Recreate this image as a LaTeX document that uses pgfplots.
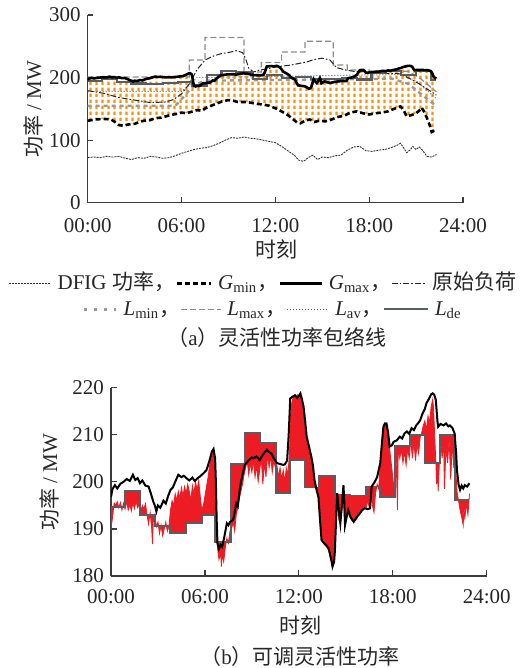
\documentclass[border=0pt]{standalone}
\usepackage{pgfplots}
\pgfplotsset{compat=1.18}
\usepackage{pgfplotstable}
\usepgfplotslibrary{fillbetween}
\usetikzlibrary{patterns}
\usepackage{fontspec}
\setmainfont{Liberation Serif}
\newfontfamily\cjk{Noto Sans CJK SC}
\definecolor{myorange}{RGB}{246,148,12}
\definecolor{myred}{RGB}{237,28,36}
\definecolor{ldegray}{RGB}{88,93,98}
\definecolor{axgray}{RGB}{60,60,60}
\pgfdeclarepatternformonly{vdash}{\pgfqpoint{0pt}{0pt}}{\pgfqpoint{2.75pt}{3pt}}{\pgfqpoint{2.75pt}{3pt}}{%
  \pgfsetlinewidth{1.25pt}%
  \pgfpathmoveto{\pgfqpoint{1.37pt}{0.45pt}}%
  \pgfpathlineto{\pgfqpoint{1.37pt}{2.55pt}}%
  \pgfusepath{stroke}}

\pgfplotstableread{
t v
0.0 196.8
0.1 198.5
0.25 199.3
0.4 198.6
0.6 199.6
0.8 200.0
1.0 200.6
1.2 200.2
1.4 201.5
1.55 200.4
1.7 200.8
1.85 199.7
2.0 200.3
2.2 199.2
2.4 199.0
2.55 197.5
2.7 195.8
2.8 195.0
2.9 193.7
3.0 195.0
3.15 194.5
3.35 196.0
3.5 195.4
3.65 197.0
3.8 198.3
3.95 198.8
4.1 200.0
4.3 201.5
4.5 201.0
4.65 201.3
4.85 200.7
5.0 200.3
5.2 200.9
5.35 200.2
5.5 200.7
5.7 201.2
5.9 201.8
6.1 202.5
6.3 204.6
6.45 206.5
6.55 207.0
6.65 205.0
6.7 200.0
6.75 192.0
6.8 187.0
6.9 185.8
7.0 186.6
7.1 186.2
7.25 188.5
7.4 191.2
7.5 190.8
7.6 191.5
7.8 191.9
7.9 193.5
8.0 195.4
8.1 194.8
8.25 199.0
8.4 201.5
8.55 203.6
8.7 204.2
8.85 204.8
9.0 205.2
9.1 205.0
9.3 205.4
9.5 204.6
9.65 205.5
9.8 206.2
9.95 206.8
10.1 206.3
10.25 206.0
10.4 205.0
10.6 204.0
10.8 203.8
11.0 203.6
11.1 203.7
11.25 204.5
11.35 210.0
11.45 217.7
11.6 218.1
11.75 218.4
11.9 217.8
12.1 218.8
12.2 217.5
12.3 216.0
12.4 213.0
12.5 209.6
12.65 207.5
12.8 205.3
12.9 203.5
13.0 200.4
13.15 198.0
13.25 196.8
13.35 192.0
13.45 187.6
13.6 187.0
13.75 186.5
13.9 185.9
14.0 184.5
14.1 183.0
14.15 182.0
14.25 183.0
14.3 185.2
14.38 192.0
14.45 197.6
14.55 194.0
14.65 191.2
14.75 195.0
14.85 199.3
14.9 196.0
14.95 190.8
15.05 192.5
15.15 194.0
15.3 192.5
15.5 191.5
15.7 192.5
15.9 193.3
16.05 194.0
16.2 194.4
16.4 194.2
16.55 194.4
16.65 199.0
16.85 200.0
17.0 201.0
17.1 202.5
17.2 204.0
17.3 208.0
17.4 211.7
17.5 212.4
17.6 212.4
17.7 210.5
17.8 207.5
17.95 207.8
18.05 208.5
18.25 208.8
18.45 209.6
18.6 209.2
18.75 210.3
18.9 210.7
19.05 210.2
19.2 211.4
19.35 211.0
19.5 212.0
19.65 212.6
19.75 213.1
19.9 214.5
20.05 215.5
20.15 216.7
20.3 217.6
20.45 218.6
20.55 218.8
20.65 218.5
20.75 217.4
20.85 213.0
20.9 211.7
21.05 212.3
21.25 212.0
21.4 212.4
21.55 211.8
21.65 212.0
21.8 211.5
21.95 210.3
22.05 206.0
22.1 202.5
22.2 199.5
22.3 198.3
22.4 199.2
22.5 198.6
22.6 199.3
22.75 199.0
22.9 199.7
}\gmax

\pgfplotstableread{
t v
0.0 196.8
0.1 198.5
0.25 199.3
0.4 198.6
0.6 199.6
0.8 200.0
1.0 200.6
1.2 200.2
1.4 201.5
1.55 200.4
1.7 200.8
1.85 199.7
2.0 200.3
2.2 199.2
2.4 199.0
2.55 197.5
2.7 195.8
2.8 195.0
2.9 193.7
3.0 195.0
3.15 194.5
3.35 196.0
3.5 195.4
3.65 197.0
3.8 198.3
3.95 198.8
4.1 200.0
4.3 201.5
4.5 201.0
4.65 201.3
4.85 200.7
5.0 200.3
5.2 200.9
5.35 200.2
5.5 200.7
5.7 201.2
5.9 201.8
6.1 202.5
6.3 204.6
6.45 206.5
6.55 207.0
6.65 205.0
6.7 200.0
6.75 192.0
6.8 187.0
6.9 185.8
7.0 186.6
7.1 186.2
7.25 188.5
7.4 191.2
7.5 190.8
7.6 191.5
7.8 191.9
7.9 193.5
8.0 195.4
8.1 194.8
8.25 199.0
8.4 201.5
8.55 203.6
8.7 204.2
8.85 204.8
9.0 205.2
9.1 205.0
9.3 205.4
9.5 204.6
9.65 205.5
9.8 206.2
9.95 206.8
10.1 206.3
10.25 206.0
10.4 205.0
10.6 204.0
10.8 203.8
11.0 203.6
11.1 203.7
11.25 204.5
11.35 210.0
11.45 217.7
11.6 218.1
11.75 218.4
11.9 217.8
12.1 218.8
12.2 217.5
12.3 216.0
12.4 213.0
12.5 209.6
12.65 207.5
12.8 205.3
12.9 203.5
13.0 200.4
13.15 198.0
13.25 196.8
13.35 192.0
13.45 187.6
13.6 187.0
13.75 186.5
13.9 185.9
14.0 184.5
14.1 183.0
14.15 182.0
14.25 183.0
14.3 185.2
14.38 192.0
14.45 197.6
14.55 194.0
14.65 191.2
14.75 195.0
14.85 199.3
14.9 196.0
14.95 190.8
15.05 192.5
15.15 194.0
15.3 192.5
15.5 191.5
15.7 192.5
15.9 193.3
16.05 194.0
16.2 194.4
16.4 194.2
16.55 194.4
16.65 199.0
16.85 200.0
17.0 201.0
17.1 202.5
17.2 204.0
17.3 208.0
17.4 211.7
17.5 212.4
17.6 212.4
17.7 210.5
17.8 207.5
17.95 207.8
18.05 208.5
18.25 208.8
18.45 209.6
18.6 209.2
18.75 210.3
18.9 210.7
19.05 210.2
19.2 211.4
19.35 211.0
19.5 212.0
19.65 212.6
19.75 213.1
19.9 214.5
20.05 215.5
20.15 216.7
20.3 217.6
20.45 218.6
20.55 218.8
20.65 218.5
20.75 217.4
20.85 213.0
20.9 211.7
21.05 212.3
21.25 212.0
21.4 212.4
21.55 211.8
21.65 212.0
21.8 211.5
21.95 210.3
22.05 206.0
22.1 202.5
22.2 199.5
22.3 198.3
}\gmaxtop

\pgfplotstableread{
t v
0.0 131
0.5 133
1.0 134
1.5 133
1.8 128
2.0 124
2.3 123
2.6 125
3.0 126
3.3 129
3.6 131
4.0 132
4.3 135
4.7 136
5.0 138
5.3 140
5.7 142
6.0 144
6.3 143
6.6 145
7.0 148
7.3 147
7.6 152
8.0 156
8.3 159
8.6 162
9.0 164
9.3 163
9.6 161
10.0 161
10.4 160
10.8 158
11.2 157
11.6 155
12.0 151
12.4 146
12.8 140
13.1 134
13.4 128
13.6 127
13.9 131
14.2 133
14.5 129
14.8 131
15.2 130
15.6 133
16.0 137
16.4 139
16.8 144
17.2 146
17.6 143
18.0 141
18.4 143
18.8 144
19.2 146
19.6 150
20.0 154
20.2 148
20.4 138
20.7 140
21.0 143
21.2 147
21.35 152
21.5 146
21.7 135
21.9 122
22.0 113
22.15 115
22.3 116
}\gmin

\pgfplotstableread{
t v
0.0 72
0.4 73
0.8 72
1.2 74
1.6 73
2.0 74
2.4 71
2.8 69
3.2 72
3.6 71
4.0 74
4.4 73
4.8 71
5.2 72
5.6 75
6.0 79
6.4 82
6.8 85
7.2 87
7.6 88
8.0 91
8.4 95
8.8 100
9.2 104
9.6 103
10.0 105
10.4 103
10.8 102
11.2 100
11.6 98
12.0 96
12.4 90
12.8 83
13.2 76
13.5 68
13.8 66
14.1 72
14.4 76
14.7 69
15.0 73
15.4 72
15.8 75
16.2 76
16.6 84
17.0 89
17.4 90
17.8 83
18.2 82
18.6 84
19.0 85
19.4 88
19.8 92
20.0 95
20.2 88
20.4 80
20.6 84
20.8 90
21.0 85
21.2 89
21.4 84
21.7 74
22.0 73
22.3 77
}\dfig

\pgfplotstableread{
t v
0.0 179
1.0 175
2.0 168
3.0 164
4.0 160
5.0 161
5.5 165
6.0 174
6.5 190
7.0 213
7.5 228
8.0 234
8.5 238
9.0 240
9.5 243
9.9 240
10.1 230
10.3 215
10.6 209
11.0 212
11.5 214
12.0 217
13.0 220
14.0 225
14.5 229
15.0 231
15.5 228
15.9 216
16.5 212
17.0 210
18.0 209
19.0 207
20.0 206
21.0 193
22.0 177
22.3 172
}\load

\pgfplotstableread{
t v
0 201
6.5 201
6.5 228
7.5 228
7.5 264
10.0 264
10.0 209
11.1 209
11.1 224
12.4 224
12.4 241
13.9 241
13.9 258
15.7 258
15.7 220
16.6 220
16.6 212
18.0 212
18.0 210
20.5 210
21.3 198
22.3 177
}\lmax

\pgfplotstableread{
t v
0 155
5.6 155
6.1 168
6.6 183
7.0 190
7.5 195
19.5 198
20.5 190
21.5 170
22.3 154
}\lmin

\pgfplotstableread{
t v
0 178
6.0 178
6.6 190
7.0 200
20.0 205
21.0 195
22.3 166
}\lav

\pgfplotstableread{
t v
0 194.7
0.9 194.7
0.9 198.1
1.85 198.1
1.85 193.0
2.8 193.0
2.8 190.6
3.75 190.6
3.75 189.2
4.8 189.2
4.8 191.3
5.8 191.3
5.8 193.0
6.65 193.0
6.65 187.2
7.65 187.2
7.65 203.8
8.55 203.8
8.55 210.3
9.5 210.3
9.5 208.3
10.55 208.3
10.55 197.6
11.45 197.6
11.45 204.6
12.4 204.6
12.4 198.8
13.3 198.8
13.3 201.2
14.3 201.2
14.3 197.3
15.25 197.3
15.25 197.1
16.3 197.1
16.3 199.0
17.2 199.0
17.2 196.8
18.15 196.8
18.15 207.6
19.1 207.6
19.1 209.9
20.05 209.9
20.05 204.0
21.0 204.0
21.0 209.9
21.95 209.9
21.95 196.1
22.9 196.1
}\lde

\pgfplotstableread{
t v
0 194.7
0.9 194.7
0.9 198.1
1.85 198.1
1.85 193.0
2.8 193.0
2.8 190.6
3.75 190.6
3.75 189.2
4.8 189.2
4.8 191.3
5.8 191.3
5.8 193.0
6.65 193.0
6.65 187.2
7.65 187.2
7.65 203.8
8.55 203.8
8.55 210.3
9.5 210.3
9.5 208.3
10.55 208.3
10.55 197.6
11.45 197.6
11.45 204.6
12.4 204.6
12.4 198.8
13.3 198.8
13.3 201.2
14.3 201.2
14.3 197.3
15.25 197.3
15.25 197.1
16.3 197.1
16.3 199.0
17.2 199.0
17.2 196.8
18.15 196.8
18.15 207.6
19.1 207.6
19.1 209.9
20.05 209.9
20.05 204.0
21.0 204.0
21.0 209.9
21.95 209.9
21.95 196.1
22.3 196.1
}\ldetop

\pgfplotstableread{
t v
0.0 190.0
0.1 192.5
0.2 195.5
0.3 195.0
0.4 195.8
0.5 194.5
0.6 195.6
0.7 194.0
0.8 195.5
0.9 194.2
1.0 195.8
1.1 194.0
1.2 195.2
1.3 193.8
1.4 195.5
1.5 194.3
1.6 195.9
1.7 194.5
1.8 195.2
1.9 193.6
2.0 195.0
2.1 194.2
2.2 195.4
2.3 193.0
2.4 191.0
2.5 193.5
2.6 190.0
2.65 186.8
2.7 191.5
2.8 193.0
2.9 190.5
3.0 191.5
3.1 189.0
3.2 190.8
3.3 188.5
3.4 190.0
3.5 191.5
3.6 189.5
3.7 190.5
3.8 194.0
3.9 196.0
4.0 195.0
4.1 197.5
4.2 196.0
4.3 198.0
4.4 196.5
4.5 198.8
4.6 197.0
4.7 199.0
4.8 197.5
4.9 199.5
5.0 198.0
5.1 196.0
5.2 199.2
5.3 197.5
5.4 200.0
5.5 198.3
5.6 200.3
5.7 197.0
5.8 194.0
5.9 195.0
6.0 197.0
6.1 199.0
6.2 201.0
6.3 203.5
6.4 205.0
6.5 206.8
6.55 207.0
6.6 204.0
6.7 195.0
6.8 186.0
6.9 183.5
7.0 185.0
7.05 182.0
7.1 184.5
7.2 183.0
7.3 186.0
7.4 188.0
7.5 187.0
7.6 189.5
7.7 190.0
7.8 191.5
7.9 189.5
8.0 193.0
8.1 194.5
8.2 196.5
8.3 198.0
8.4 199.5
8.5 201.5
8.6 203.0
8.7 204.5
8.8 201.5
8.9 204.0
9.0 202.0
9.1 204.5
9.2 201.0
9.3 203.5
9.4 200.0
9.5 202.5
9.6 205.0
9.7 199.5
9.8 204.0
9.9 201.0
10.0 206.0
10.1 203.0
10.2 205.5
10.3 202.0
10.4 204.5
10.5 203.0
10.6 203.5
10.7 201.0
10.8 203.0
10.9 200.5
11.0 202.5
11.1 200.0
11.2 203.0
11.3 201.5
11.4 206.0
11.45 212.0
11.5 216.0
11.6 217.5
11.7 218.2
11.8 217.8
11.9 218.5
12.0 218.0
12.1 218.6
12.2 217.0
12.3 215.5
12.4 212.0
12.5 209.5
12.6 207.5
12.7 206.0
12.8 205.0
12.9 202.0
13.0 200.4
13.1 198.5
13.2 197.5
13.3 196.5
13.4 190.0
13.5 187.5
13.6 187.0
13.7 186.5
13.8 186.0
13.9 185.5
14.0 184.0
14.1 182.5
14.15 182.0
14.25 184.5
14.3 190.0
14.4 195.0
14.45 197.0
14.55 192.0
14.65 191.0
14.75 194.0
14.85 199.0
14.9 193.0
14.95 190.5
15.05 193.0
15.15 194.0
15.25 193.0
15.35 192.0
15.5 191.5
15.6 192.5
15.7 192.0
15.8 193.5
15.9 193.3
16.0 194.5
16.1 194.0
16.2 195.0
16.3 194.5
16.4 196.0
16.5 194.5
16.6 198.0
16.7 195.0
16.8 193.5
16.9 197.5
17.0 199.5
17.1 198.5
17.2 204.0
17.3 208.0
17.4 211.5
17.5 212.3
17.6 212.0
17.7 210.0
17.8 207.0
17.9 204.0
18.0 201.0
18.1 198.0
18.2 207.0
18.3 194.0
18.35 207.5
18.45 205.0
18.55 207.0
18.65 204.0
18.75 206.5
18.85 203.5
18.95 207.0
19.05 205.0
19.15 209.0
19.25 205.0
19.35 208.5
19.45 204.5
19.55 208.0
19.65 206.0
19.75 209.5
19.85 210.5
19.95 212.0
20.05 213.0
20.15 211.0
20.25 214.0
20.35 212.5
20.45 216.0
20.55 217.5
20.6 216.0
20.7 208.0
20.75 204.5
20.8 199.5
20.85 203.0
20.9 198.0
20.95 202.0
21.05 209.5
21.15 205.0
21.25 208.5
21.3 198.5
21.4 207.5
21.5 204.0
21.6 209.0
21.7 200.5
21.8 208.0
21.9 203.0
21.95 209.0
22.0 204.0
22.1 198.0
22.2 196.0
22.3 194.0
22.4 192.5
22.5 190.8
22.55 195.0
22.6 192.0
22.7 195.5
22.8 193.0
22.9 197.5
}\rser

\pgfplotsset{
  myaxis/.style={
    scale only axis,
    anchor=south west,
    xmin=0, xmax=24,
    axis x line*=bottom, axis y line*=left,
    axis line style={axgray, line width=0.6pt, -},
    major tick style={axgray, line width=0.6pt},
    major tick length=2.8pt,
    tick align=inside,
    xtick={0,6,12,18,24},
    xticklabels={00:00,06:00,12:00,18:00,24:00},
    /pgf/number format/assume math mode=true,
    ticklabel style={font=\fontsize{10.5}{12}\selectfont, text=black!85},
  }
}

\begin{document}
\begin{tikzpicture}
\path (0,0) rectangle (263pt,-334pt);
% ---------- (a) ----------
\begin{axis}[myaxis,
  at={(43.85pt,-101.35pt)}, width=187.65pt, height=93.85pt,
  ymin=0, ymax=300, ytick={0,100,200,300},
  xticklabel style={yshift=-4.5pt},
]
\addplot[draw=none, name path=gmaxp] table[x=t,y=v]{\gmaxtop};
\addplot[draw=none, name path=gminp] table[x=t,y=v]{\gmin};
\addplot[pattern=vdash, pattern color=myorange, draw=none] fill between[of=gmaxp and gminp];
\addplot[black!45, line width=0.6pt, dash pattern=on 3pt off 1.5pt] table[x=t,y=v]{\lmax};
\addplot[black!40, line width=1.2pt, dash pattern=on 2pt off 2pt] table[x=t,y=v]{\lmin};
\addplot[black!60, line width=0.5pt, densely dotted] table[x=t,y=v]{\lav};
\addplot[black!85, line width=0.5pt, dash pattern=on 3pt off 1pt on 0.8pt off 1pt] table[x=t,y=v]{\load};
\addplot[ldegray, line width=1.1pt] table[x=t,y=v]{\ldetop};
\addplot[black, line width=1.3pt] table[x=t,y=v]{\gmaxtop};
\addplot[black, line width=1.3pt, dash pattern=on 2.5pt off 1.5pt] table[x=t,y=v]{\gmin};
\addplot[black!80, line width=0.45pt, dash pattern=on 1pt off 0.5pt] table[x=t,y=v]{\dfig};
\end{axis}
% ---------- (b) ----------
\begin{axis}[myaxis,
  at={(55.5pt,-288pt)}, width=187.85pt, height=94.15pt,
  ymin=180, ymax=220, ytick={180,190,200,210,220},
  xticklabel style={yshift=-3.3pt},
]
\addplot[draw=none, name path=rp] table[x=t,y=v]{\rser};
\addplot[draw=none, name path=ldep] table[x=t,y=v]{\lde};
\addplot[fill=myred, draw=none] fill between[of=rp and ldep];
\addplot[myred, line width=0.4pt] table[x=t,y=v]{\rser};
\addplot[ldegray, line width=0.9pt] table[x=t,y=v]{\lde};
\addplot[black, line width=1.0pt] table[x=t,y=v]{\gmax};
\end{axis}
% ---------- texts ----------
\tikzset{every node/.style={font=\fontsize{10.5}{12}\selectfont, text=black!85, inner sep=0pt}}
\node[rotate=90] at (16.5pt,-54.5pt) {{\cjk 功率} / MW};
\node at (138pt,-124.5pt) {\cjk 时刻};
\node at (131.25pt,-141pt) {%
\tikz[baseline=-0.6ex]\draw[black!80,line width=0.5pt,dash pattern=on 1pt off 0.5pt](0,0)--(21pt,0);\hspace{3pt}DFIG\hspace{3pt}{\cjk 功率，}%
\tikz[baseline=-0.6ex]\draw[black,line width=1.3pt,dash pattern=on 2.5pt off 1.5pt](0,0)--(17pt,0);\hspace{3pt}\textit{G}\textsubscript{min}{\cjk ，}%
\tikz[baseline=-0.6ex]\draw[black,line width=1.3pt](0,0)--(21pt,0);\hspace{3pt}\textit{G}\textsubscript{max}{\cjk ，}%
\tikz[baseline=-0.6ex]\draw[black!85,line width=0.5pt,dash pattern=on 3pt off 1pt on 0.8pt off 1pt](0,0)--(17pt,0);\hspace{3pt}{\cjk 原始负荷}};
\node at (136pt,-155pt) {%
\tikz[baseline=-0.6ex]\draw[black!40,line width=1.6pt,dash pattern=on 1.6pt off 3.4pt](0,0)--(16pt,0);\hspace{3pt}\textit{L}\textsubscript{min}{\cjk ，}%
\tikz[baseline=-0.6ex]\draw[black!45,line width=0.6pt,dash pattern=on 3pt off 1.5pt](0,0)--(20pt,0);\hspace{3pt}\textit{L}\textsubscript{max}{\cjk ，}%
\tikz[baseline=-0.6ex]\draw[black!60,line width=0.5pt,densely dotted](0,0)--(21pt,0);\hspace{3pt}\textit{L}\textsubscript{av}{\cjk ，}%
\tikz[baseline=-0.6ex]\draw[ldegray,line width=1.1pt](0,0)--(22pt,0);\hspace{3pt}\textit{L}\textsubscript{de}};
\node at (138.5pt,-169pt) {{\cjk （}a{\cjk ）灵活性功率包络线}};
\node[rotate=90] at (24.5pt,-241pt) {{\cjk 功率} / MW};
\node at (150pt,-312.5pt) {\cjk 时刻};
\node at (150pt,-328.5pt) {{\cjk （}b{\cjk ）可调灵活性功率}};
\end{tikzpicture}
\end{document}
